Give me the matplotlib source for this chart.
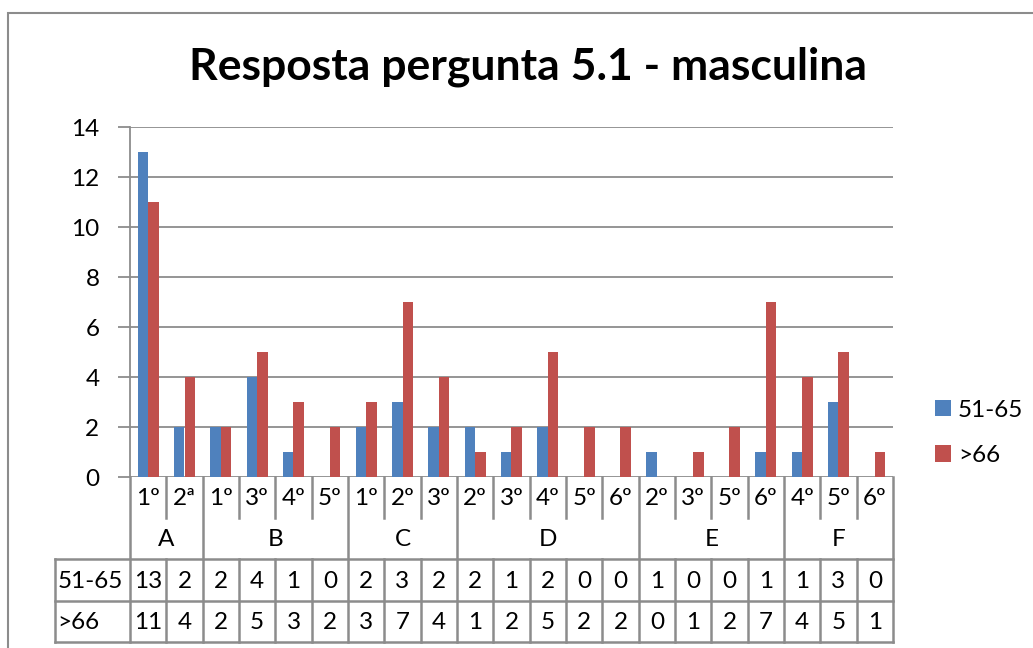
import matplotlib.pyplot as plt
import numpy as np

plt.rcParams['font.family'] = ['Lato', 'DejaVu Sans']

# data
groups = ["A", "B", "C", "D", "E", "F"]
group_sizes = [2, 4, 3, 5, 4, 3]
sub_labels = ["1º", "2ª", "1º", "3º", "4º", "5º", "1º", "2º", "3º",
              "2º", "3º", "4º", "5º", "6º", "2º", "3º", "5º", "6º",
              "4º", "5º", "6º"]
serie_51_65 = [13, 2, 2, 4, 1, 0, 2, 3, 2, 2, 1, 2, 0, 0, 1, 0, 0, 1, 1, 3, 0]
serie_66 = [11, 4, 2, 5, 3, 2, 3, 7, 4, 1, 2, 5, 2, 2, 0, 1, 2, 7, 4, 5, 1]
series_names = ["51-65", ">66"]

W, H = 1033, 648
blue = "#4F81BD"
red = "#C0504D"
grey = "#8C8C8C"
fs = 17.5

fig = plt.figure(figsize=(W / 100, H / 100), dpi=100)

# outer chart border
fig.patches.append(plt.Rectangle((8 / W, -0.1), 1.2, 1.1 - 13 / H,
                                 transform=fig.transFigure, fill=False,
                                 edgecolor=grey, lw=1.5))

ax_l, ax_r = 130, 893
ax_top, ax_bot = 127, 477
ax = fig.add_axes([ax_l / W, 1 - ax_bot / H, (ax_r - ax_l) / W, (ax_bot - ax_top) / H])

n = len(sub_labels)
x = np.arange(n)
bw = 0.29
ax.bar(x - bw / 2, serie_51_65, bw, color=blue, label=series_names[0], zorder=3)
ax.bar(x + bw / 2, serie_66, bw, color=red, label=series_names[1], zorder=3)

ax.set_xlim(-0.5, n - 0.5)
ax.set_ylim(0, 14)
ax.set_yticks(range(0, 15, 2))
ax.set_xticks([])
ax.grid(axis="y", color=grey, lw=1.3, zorder=0)
for s in ["top", "right", "bottom"]:
    ax.spines[s].set_visible(False)
ax.spines["left"].set_color(grey)
ax.spines["left"].set_linewidth(1.3)
ax.tick_params(axis="y", length=9, width=1.3, color=grey, labelsize=fs, pad=13)
ax.set_axisbelow(True)

fig.text(528 / W, 1 - 67 / H, "Resposta pergunta 5.1 - masculina",
         ha="center", va="center", fontsize=32, fontweight="bold")

leg = fig.legend(loc="upper left", bbox_to_anchor=(925 / W, 1 - 390 / H),
                 frameon=False, fontsize=fs, handlelength=0.65, handleheight=0.65,
                 handletextpad=0.3, labelspacing=1.0, borderaxespad=0)

# data table below the axis
tb_top, tb_bot = 477, 642
tax = fig.add_axes([ax_l / W, 1 - tb_bot / H, (ax_r - ax_l) / W, (tb_bot - tb_top) / H])
tax.set_xlim(-0.5, n - 0.5)
tax.set_ylim(tb_bot, tb_top)
tax.axis("off")

r_sub, r_grp, r_d1, r_d2 = 477, 518, 559, 601
cw = (ax_r - ax_l) / n
xl = -0.5 - 75 / cw
lk = dict(color=grey, lw=1.8, clip_on=False, solid_capstyle="projecting")

bounds = np.cumsum([0] + group_sizes) - 0.5
for i in range(n + 1):
    b = i - 0.5
    if b in bounds:
        tax.plot([b, b], [r_sub, tb_bot], **lk)
    else:
        tax.plot([b, b], [r_sub, r_grp], **lk)
        tax.plot([b, b], [r_d1, tb_bot], **lk)
for yy in [r_d1, r_d2, tb_bot]:
    tax.plot([xl, n - 0.5], [yy, yy], **lk)
tax.plot([xl, xl], [r_d1, tb_bot], **lk)

for i, lab in enumerate(sub_labels):
    tax.text(i, (r_sub + r_grp) / 2 + 1, lab, ha="center", va="center", fontsize=fs)
    tax.text(i, (r_d1 + r_d2) / 2 + 1, str(serie_51_65[i]), ha="center", va="center", fontsize=fs)
    tax.text(i, (r_d2 + tb_bot) / 2 + 1, str(serie_66[i]), ha="center", va="center", fontsize=fs)
for g, lo, hi in zip(groups, bounds[:-1], bounds[1:]):
    tax.text((lo + hi) / 2, (r_grp + r_d1) / 2 + 1, g, ha="center", va="center", fontsize=fs)

tax.text(xl + 0.07, (r_d1 + r_d2) / 2 + 1, series_names[0], ha="left", va="center", fontsize=fs)
tax.text(xl + 0.07, (r_d2 + tb_bot) / 2 + 1, series_names[1], ha="left", va="center", fontsize=fs)

fig.savefig("out.png", dpi=100)
